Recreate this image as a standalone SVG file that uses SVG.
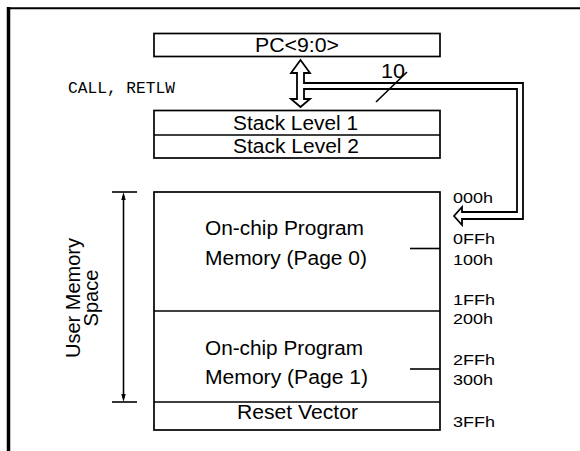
<svg xmlns="http://www.w3.org/2000/svg" width="580" height="451" viewBox="0 0 580 451">
<style>
.box{fill:#fff;stroke:#000;stroke-width:1.7}
.ln{stroke:#000;stroke-width:1.6;fill:none}
.t{font-family:"Liberation Sans",Arial,sans-serif;font-size:20px;fill:#000}
.h{font-family:"Liberation Sans",Arial,sans-serif;font-size:15.5px;fill:#000}
.m{font-family:"Liberation Mono","Courier New",monospace;font-size:17px;fill:#000}
</style>
<rect width="580" height="451" fill="#fff"/>
<g id="frame">
<line x1="7" y1="8.3" x2="580" y2="8.3" stroke="#000" stroke-width="2"/>
<line x1="8.5" y1="7" x2="8.5" y2="451" stroke="#000" stroke-width="3.5"/>
</g>
<g id="pc">
<rect class="box" x="154" y="33.5" width="286" height="23"/>
<text class="t" x="255" y="52" textLength="84" lengthAdjust="spacingAndGlyphs">PC&lt;9:0&gt;</text>
</g>
<g id="call-label">
<text class="m" x="68" y="93" textLength="107" lengthAdjust="spacingAndGlyphs">CALL, RETLW</text>
</g>
<g id="stack">
<rect class="box" x="154" y="110.5" width="286" height="47.5"/>
<line class="ln" x1="154" y1="135" x2="440" y2="135"/>
<text class="t" x="233" y="130" textLength="125" lengthAdjust="spacingAndGlyphs">Stack Level 1</text>
<text class="t" x="233" y="153" textLength="126" lengthAdjust="spacingAndGlyphs">Stack Level 2</text>
</g>
<g id="memory">
<rect class="box" x="154" y="192" width="286" height="238"/>
<line class="ln" x1="154" y1="311" x2="440" y2="311"/>
<line class="ln" x1="154" y1="402" x2="440" y2="402"/>
<line class="ln" x1="410" y1="248.5" x2="440" y2="248.5" stroke-width="1.2"/>
<line class="ln" x1="410" y1="369" x2="440" y2="369" stroke-width="1.2"/>
<text class="t" x="205" y="235" textLength="159" lengthAdjust="spacingAndGlyphs">On-chip Program</text>
<text class="t" x="205" y="265" textLength="162" lengthAdjust="spacingAndGlyphs">Memory (Page 0)</text>
<text class="t" x="205" y="355" textLength="158" lengthAdjust="spacingAndGlyphs">On-chip Program</text>
<text class="t" x="205" y="384" textLength="163" lengthAdjust="spacingAndGlyphs">Memory (Page 1)</text>
<text class="t" x="237" y="419" textLength="121" lengthAdjust="spacingAndGlyphs">Reset Vector</text>
</g>
<g id="addresses">
<text class="h" x="453" y="203" textLength="40" lengthAdjust="spacingAndGlyphs">000h</text>
<text class="h" x="453" y="243.5" textLength="42" lengthAdjust="spacingAndGlyphs">0FFh</text>
<text class="h" x="453" y="265" textLength="40" lengthAdjust="spacingAndGlyphs">100h</text>
<text class="h" x="453" y="305" textLength="42" lengthAdjust="spacingAndGlyphs">1FFh</text>
<text class="h" x="453" y="324" textLength="40" lengthAdjust="spacingAndGlyphs">200h</text>
<text class="h" x="453" y="365" textLength="42" lengthAdjust="spacingAndGlyphs">2FFh</text>
<text class="h" x="453" y="385" textLength="40" lengthAdjust="spacingAndGlyphs">300h</text>
<text class="h" x="453" y="426.5" textLength="42" lengthAdjust="spacingAndGlyphs">3FFh</text>
</g>
<g id="user-space">
<line class="ln" x1="112" y1="192" x2="137" y2="192"/>
<line class="ln" x1="112" y1="402" x2="137" y2="402"/>
<line class="ln" x1="123.5" y1="196" x2="123.5" y2="398"/>
<polygon points="123.5,192 121.3,200 125.7,200" fill="#000"/>
<polygon points="123.5,402 121.3,394 125.7,394" fill="#000"/>
<text class="t" transform="translate(80,298) rotate(-90)" text-anchor="middle" x="0" y="0" textLength="120" lengthAdjust="spacingAndGlyphs">User Memory</text>
<text class="t" transform="translate(98,298) rotate(-90)" text-anchor="middle" x="0" y="0" textLength="57" lengthAdjust="spacingAndGlyphs">Space</text>
</g>
<g id="connectors">
<path d="M300.5,60 L310,73 L304,73 L304,83 L523,83 L523,219 L462,219 L462,225 L454,216 L462,207 L462,212 L517,212 L517,89 L304,89 L304,99 L310,99 L300.5,107 L291,99 L297,99 L297,73 L291,73 Z" fill="#fff" stroke="#000" stroke-width="1.8" stroke-linejoin="miter"/>
<line class="ln" x1="376" y1="102" x2="407" y2="72"/>
<text class="t" x="381" y="78" font-size="18" textLength="24" lengthAdjust="spacingAndGlyphs">10</text>
</g>
</svg>
